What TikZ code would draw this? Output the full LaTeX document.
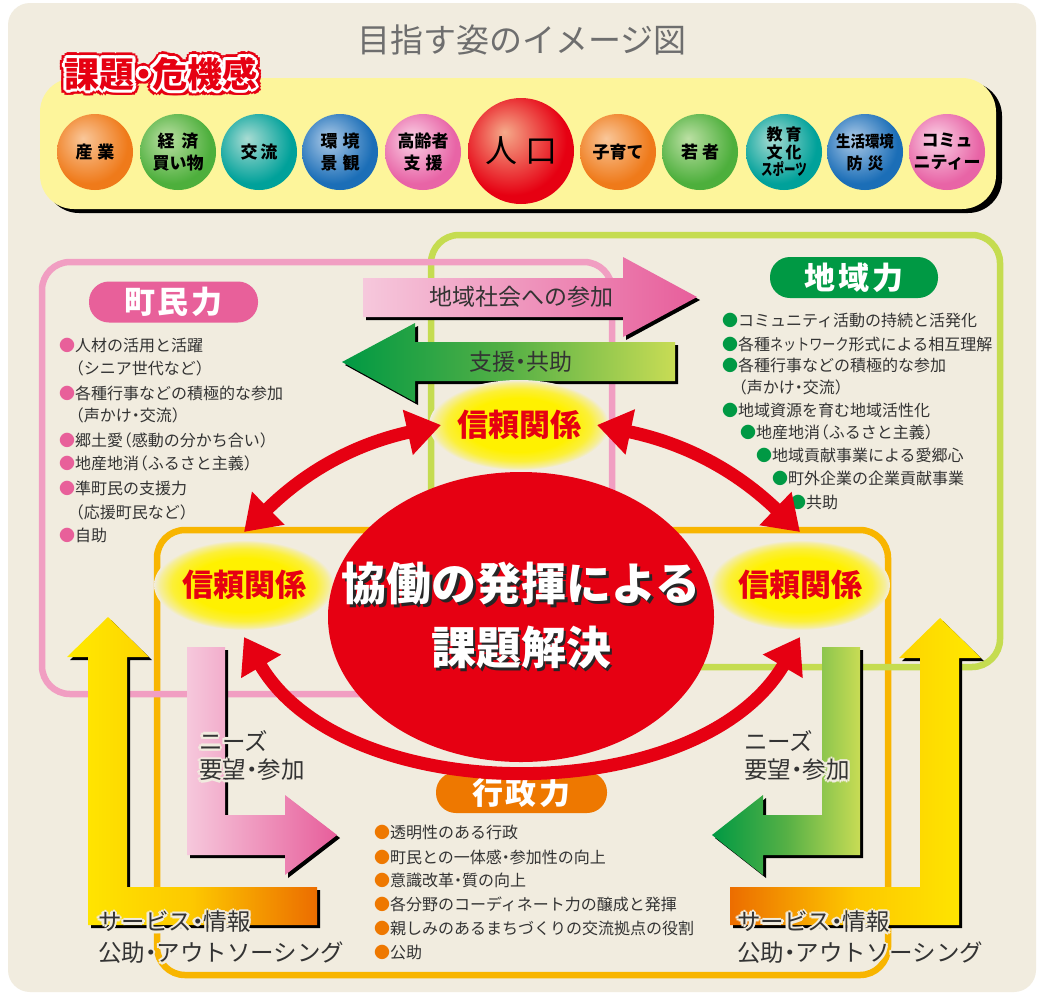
\documentclass[tikz,border=0pt]{standalone}
\usepackage{fontspec}
\setmainfont{Noto Sans CJK JP}
\usetikzlibrary{arrows.meta,shapes.geometric}
\definecolor{bg}{HTML}{F1ECDF}
\definecolor{boxy}{HTML}{FDF59B}
\definecolor{redc}{HTML}{E60012}
\definecolor{txt}{HTML}{333333}
\definecolor{titleg}{HTML}{6E6E6E}
\definecolor{pinkf}{HTML}{F19EC2}
\definecolor{pinkp}{HTML}{E8609A}
\definecolor{greenf}{HTML}{C5DC50}
\definecolor{greenp}{HTML}{009944}
\definecolor{orangef}{HTML}{F8B500}
\definecolor{orangep}{HTML}{EE7800}
\definecolor{glowy}{HTML}{FFF100}
\definecolor{bOr}{HTML}{EF7A1A}\definecolor{bOrH}{HTML}{F9C79A}
\definecolor{bGr}{HTML}{4DAF3C}\definecolor{bGrH}{HTML}{BCE0A4}
\definecolor{bTe}{HTML}{00A19A}\definecolor{bTeH}{HTML}{A9DCD3}
\definecolor{bBl}{HTML}{1B6EB7}\definecolor{bBlH}{HTML}{AECBE8}
\definecolor{bPk}{HTML}{E864A6}\definecolor{bPkH}{HTML}{FAD3E6}
\definecolor{bRd}{HTML}{E60012}\definecolor{bRdH}{HTML}{F5AA8A}
\definecolor{aPkL}{HTML}{F6C8DC}\definecolor{aPkR}{HTML}{E75E9B}
\definecolor{aGrM}{HTML}{55B045}\definecolor{aGrR}{HTML}{C8DC55}
\definecolor{aYe}{HTML}{FFEA00}\definecolor{aYeM}{HTML}{FDC800}\definecolor{aOr}{HTML}{EC6D00}
\colorlet{glowmid}{glowy!75!bg}
\colorlet{glowlow}{glowy!30!bg}
\colorlet{ballbase}{bOr}\colorlet{ballhi}{bOrH}
\pgfdeclareradialshading[ballbase,ballhi]{myball}{\pgfpoint{-8bp}{9bp}}{color(0bp)=(ballhi); color(26bp)=(ballbase); color(60bp)=(ballbase)}
\pgfdeclareradialshading{glow}{\pgfpoint{0bp}{0bp}}{color(0bp)=(glowy); color(15bp)=(glowy); color(20bp)=(glowmid); color(23.5bp)=(glowlow); color(25bp)=(bg); color(50bp)=(bg)}
\newcommand{\halo}[3]{\leavevmode\foreach \ang in {0,45,...,315}{\pgfmathsetlengthmacro{\hx}{#2*cos(\ang)}\pgfmathsetlengthmacro{\hy}{#2*sin(\ang)}\rlap{\kern\hx\raisebox{\hy}{\color{#1}#3}}}#3}
\newcommand{\halobig}[3]{\leavevmode\foreach \ang in {0,30,...,330}{\pgfmathsetlengthmacro{\hx}{#2*cos(\ang)}\pgfmathsetlengthmacro{\hy}{#2*sin(\ang)}\rlap{\kern\hx\raisebox{\hy}{\color{#1}#3}}}#3}
\newcommand{\shadowtext}[1]{\rlap{\kern2.5pt\raisebox{-2.5pt}{\color{black!85}#1}}#1}
\newcommand{\bul}[1]{{\color{#1}●}}
\newcommand{\md}{\makebox[0.5em][c]{・}}
\newcommand{\lp}{\makebox[0.55em][r]{（}}
\newcommand{\rp}{\makebox[0.55em][l]{）}}
\newcommand{\ball}[7]{\colorlet{ballbase}{#4}\colorlet{ballhi}{#5}\shade[shading=myball] #2 circle (#3);\node[balltext,#7] (#1) at #2 {#6};}
\begin{document}
\begin{tikzpicture}[x=1pt,y=-1pt,
  every node/.style={inner sep=0pt,outer sep=0pt},
  frame/.style={line width=6.5pt,rounded corners=28pt},
  pill/.style={rectangle,rounded corners=20pt,minimum height=41pt,text=white,font=\bfseries\fontsize{31}{31}\selectfont},
  li/.style={anchor=base west,text=txt,font=\fontsize{16}{16}\selectfont},
  balltext/.style={align=center,text=black,font=\bfseries\fontsize{17}{22}\selectfont},
  glownode/.style={ellipse,minimum width=180pt,minimum height=90pt,inner xsep=-16pt,shade,shading=glow,text=redc,font=\bfseries\fontsize{31}{31}\selectfont},
  redarc/.style={draw=redc,line width=13pt,{Triangle[length=34pt,width=44pt]}-{Triangle[length=34pt,width=44pt]}},
  dropshadow/.style={preaction={fill=black,transform canvas={shift={(3,3)}}}},
  arrowlabel/.style={text=txt,font=\fontsize{23}{23}\selectfont},
  halolabel/.style={anchor=west,text=txt,font=\fontsize{23.5}{23.5}\selectfont}]
\useasboundingbox (0,0) rectangle (1040,994);
\fill[white] (0,0) rectangle (1040,994);
\fill[bg,rounded corners=22pt] (8,3) rectangle (1036,992);
% title
\node[font=\fontsize{33}{33}\selectfont,text=titleg] (title) at (522,40) {目指す姿のイメージ図};
% top box
\fill[black,rounded corners=34pt] (45,82) rectangle (1002,213);
\fill[boxy,rounded corners=34pt] (40,78) rectangle (996,209);
\node[font=\bfseries\fontsize{35}{35}\selectfont,text=redc] (kadai) at (161,74) {\rlap{\halobig{redc}{5.5pt}{課題\md 危機感}}\halobig{white}{3pt}{課題\md 危機感}};
% balls
\ball{b1}{(95,152)}{38}{bOr}{bOrH}{産\hspace{5pt}業}{}
\ball{b2}{(178,152)}{38}{bGr}{bGrH}{経\hspace{7pt}済\\買い物}{}
\ball{b3}{(259,152)}{38}{bTe}{bTeH}{交\hspace{3pt}流}{}
\ball{b4}{(340,152)}{38}{bBl}{bBlH}{環\hspace{5pt}境\\景\hspace{5pt}観}{}
\ball{b5}{(423,152)}{38}{bPk}{bPkH}{高齢者\\支\hspace{5pt}援}{}
\ball{b6}{(521,151)}{53}{bRd}{bRdH}{人\hspace{8pt}口}{font=\fontsize{32}{32}\selectfont}
\ball{b7}{(618,152)}{38}{bOr}{bOrH}{子育て}{}
\ball{b8}{(700,152)}{38}{bGr}{bGrH}{若\hspace{4pt}者}{}
\ball{b9}{(784,152)}{38}{bTe}{bTeH}{教\hspace{3pt}育\\文\hspace{3pt}化\\\scalebox{0.72}[1]{スポーツ}}{font=\bfseries\fontsize{16}{17.5}\selectfont}
\ball{b10}{(865,152)}{38}{bBl}{bBlH}{\scalebox{0.9}[1]{生活環境}\\防\hspace{5pt}災}{font=\bfseries\fontsize{16}{22}\selectfont}
\ball{b11}{(947,152)}{38}{bPk}{bPkH}{コミュ\\ニティー}{}
% frames
\draw[frame,orangef] (157,530) rectangle (888,975);
\draw[frame,greenf] (431,235) rectangle (1000,667);
\draw[frame,pinkf] (42,262) rectangle (612,694);
% pills
\node[pill,fill=pinkp,minimum width=169pt] (chomin) at (173.5,302) {町\hspace{3pt}民\hspace{3pt}力};
\node[pill,fill=greenp,minimum width=168pt] (chiiki) at (854,277.5) {地\hspace{3pt}域\hspace{3pt}力};
\node[pill,fill=orangep,minimum width=171pt] (gyosei) at (521.5,792.5) {行\hspace{3pt}政\hspace{3pt}力};
% lists
\node[li] (p1) at (59,351) {\bul{pinkp}人材の活用と活躍};
\node[li] (p2) at (75,374) {\lp シニア世代など\rp};
\node[li] (p3) at (59,399) {\bul{pinkp}各種行事などの積極的な参加};
\node[li] (p4) at (75,421) {\lp 声かけ\md 交流\rp};
\node[li] (p5) at (59,446) {\bul{pinkp}郷土愛\lp 感動の分かち合い\rp};
\node[li] (p6) at (59,469) {\bul{pinkp}地産地消\lp ふるさと主義\rp};
\node[li] (p7) at (59,494) {\bul{pinkp}準町民の支援力};
\node[li] (p8) at (75,518) {\lp 応援町民など\rp};
\node[li] (p9) at (59,541) {\bul{pinkp}自助};
\node[li] (g1) at (722,326) {\bul{greenp}コミュニティ活動の持続と活発化};
\node[li] (g2) at (722,350) {\bul{greenp}各種\scalebox{0.82}[1]{ネットワーク}形式による相互理解};
\node[li] (g3) at (722,371) {\bul{greenp}各種行事などの積極的な参加};
\node[li] (g4) at (738,393) {\lp 声かけ\md 交流\rp};
\node[li] (g5) at (722,416) {\bul{greenp}地域資源を育む地域活性化};
\node[li] (g6) at (740,438) {\bul{greenp}地産地消\lp ふるさと主義\rp};
\node[li] (g7) at (756,461) {\bul{greenp}地域貢献事業による愛郷心};
\node[li] (g8) at (772,484) {\bul{greenp}町外企業の企業貢献事業};
\node[li] (g9) at (790,508) {\bul{greenp}共助};
\node[li] (o1) at (374,838) {\bul{orangep}透明性のある行政};
\node[li] (o2) at (374,863) {\bul{orangep}町民との一体感\md 参加性の向上};
\node[li] (o3) at (374,886) {\bul{orangep}意識改革\md 質の向上};
\node[li] (o4) at (374,910) {\bul{orangep}各分野のコーディネート力の醸成と発揮};
\node[li] (o5) at (374,934) {\bul{orangep}親しみのあるまちづくりの交流拠点の役割};
\node[li] (o6) at (374,958) {\bul{orangep}公助};
% horizontal arrows
\shade[dropshadow,left color=aPkL,right color=aPkR] (363,278) -- (623,278) -- (623,257) -- (697,297) -- (623,337) -- (623,317) -- (363,317) -- cycle;
\node[arrowlabel] (sanka) at (521,297) {地域社会への参加};
\shade[dropshadow,left color=greenp,right color=aGrR,middle color=aGrM] (675,342) -- (415,342) -- (415,323) -- (342,362) -- (415,402) -- (415,381) -- (675,381) -- cycle;
\node[arrowlabel] (shien) at (521,362) {支援\md 共助};
% L arrows
\shade[dropshadow,left color=aYe,right color=aOr,middle color=aYeM] (88,925) -- (88,657) -- (67,657) -- (108,617) -- (149,657) -- (127,657) -- (127,887) -- (317,887) -- (317,925) -- cycle;
\shade[dropshadow,left color=aOr,right color=aYe,middle color=aYeM] (959,925) -- (959,658) -- (981,658) -- (940,618) -- (899,658) -- (920,658) -- (920,887) -- (730,887) -- (730,925) -- cycle;
\shade[dropshadow,left color=aPkL,right color=aPkR] (187,647) -- (225,647) -- (225,815) -- (285,815) -- (285,795) -- (337,835) -- (285,875) -- (285,855) -- (187,855) -- cycle;
\shade[dropshadow,left color=greenp,right color=aGrR,middle color=aGrM] (860,647) -- (822,647) -- (822,815) -- (763,815) -- (763,795) -- (712,835) -- (763,875) -- (763,855) -- (860,855) -- cycle;
% halo labels
\node[halolabel] (n1) at (199,741) {\halo{bg}{2.5pt}{ニーズ}};
\node[halolabel] (n2) at (199,770) {\halo{bg}{2.5pt}{要望\md 参加}};
\node[halolabel] (n3) at (744,741) {\halo{bg}{2.5pt}{ニーズ}};
\node[halolabel] (n4) at (744,770) {\halo{bg}{2.5pt}{要望\md 参加}};
\node[halolabel] (s1) at (98,922) {\halo{bg}{2.5pt}{サービス\md 情報}};
\node[halolabel] (s2) at (98,953) {\halo{bg}{2.5pt}{公助\md アウトソーシング}};
\node[halolabel] (s3) at (737,922) {\halo{bg}{2.5pt}{サービス\md 情報}};
\node[halolabel] (s4) at (737,953) {\halo{bg}{2.5pt}{公助\md アウトソーシング}};
% trust glows
\node[glownode] (t1) at (519,425) {信頼関係};
\node[glownode] (t2) at (244,585) {信頼関係};
\node[glownode] (t3) at (800,585) {信頼関係};
% red arcs
\draw[redarc] ([yshift=8pt]t2.north) to[bend left=16] ([xshift=12pt]t1.west);
\draw[redarc] ([xshift=-12pt]t1.east) to[bend left=16] ([yshift=8pt]t3.north);
\draw[redarc] ([yshift=-7pt]t2.south) .. controls (345,810) and (698,810) .. ([yshift=-7pt]t3.south);
% central ellipse
\fill[redc] (521,617) ellipse (193 and 145);
\node[align=center,text=white,font=\bfseries\fontsize{45}{64}\selectfont] (kyodo) at (521,617) {\shadowtext{協働の発揮による}\\\shadowtext{課題解決}};
\end{tikzpicture}
\end{document}
